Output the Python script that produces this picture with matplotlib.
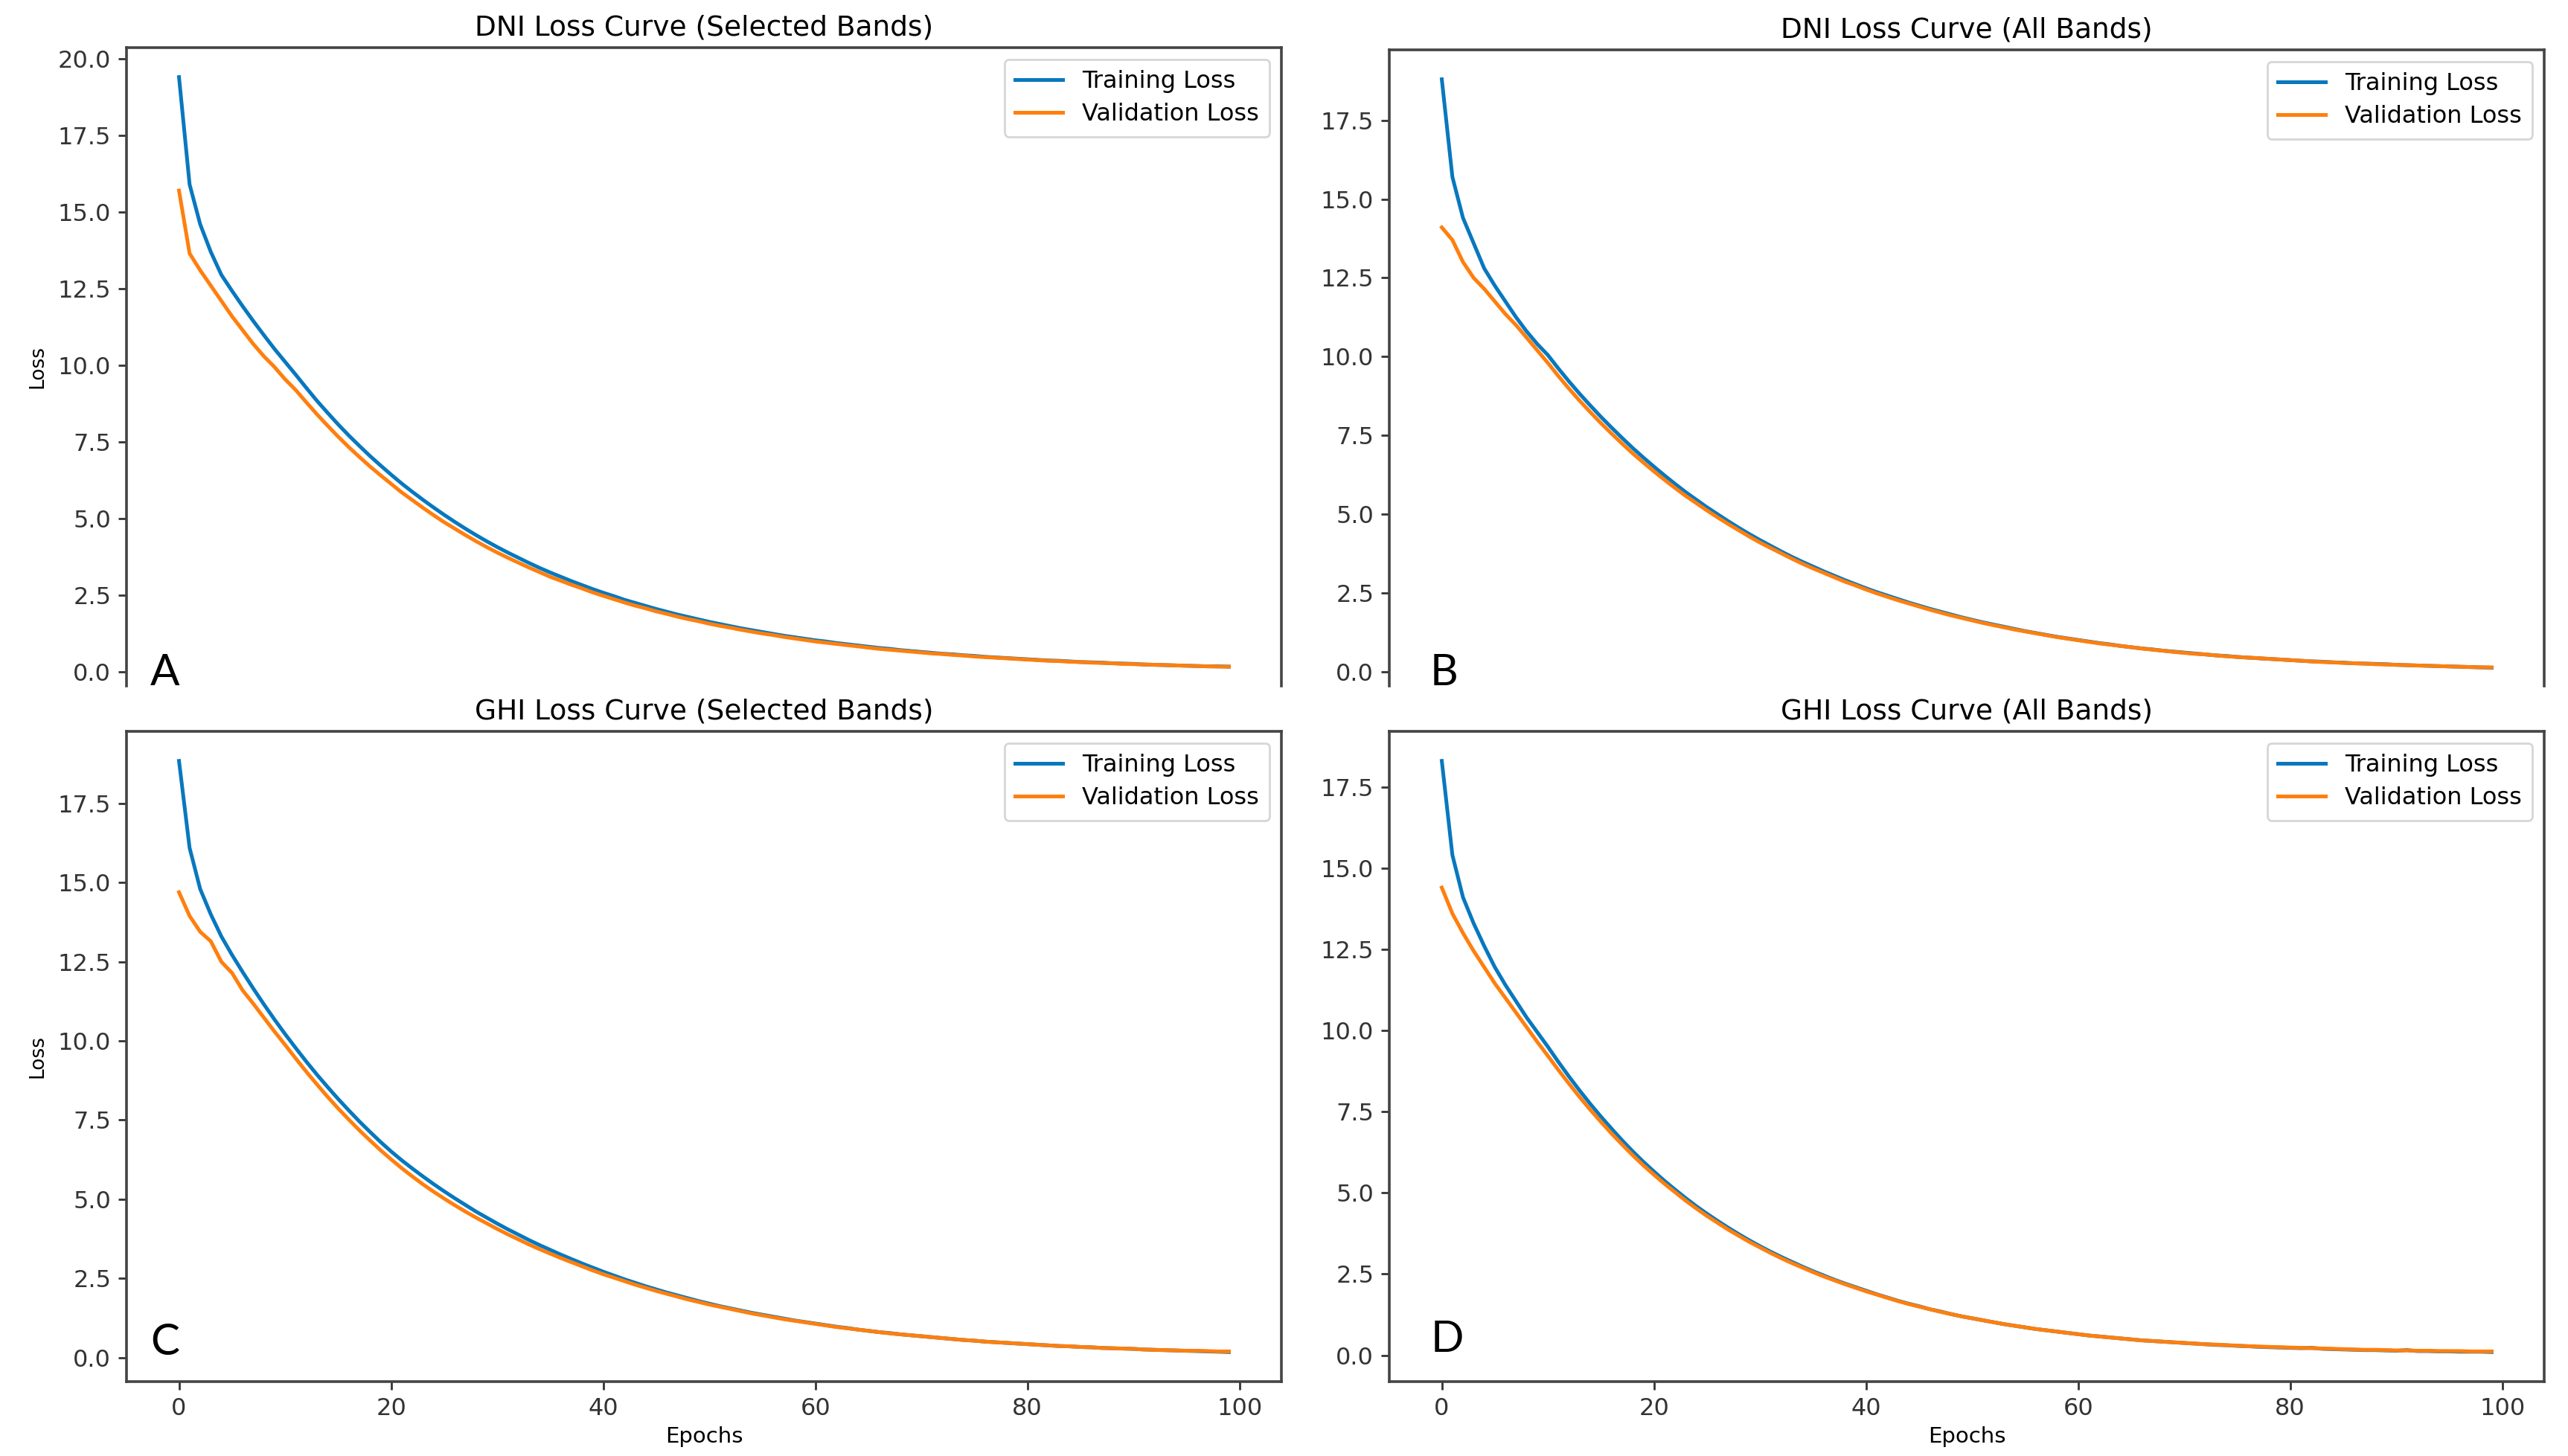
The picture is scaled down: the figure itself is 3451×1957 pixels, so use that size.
import matplotlib.pyplot as plt
import numpy as np

epochs = np.arange(100)

# DNI, selected bands
dni_sel_train = [
    19.40, 15.90, 14.60, 13.70, 12.95, 12.43, 11.93, 11.45, 10.99, 10.54,
    10.12, 9.70, 9.27, 8.85, 8.46, 8.08, 7.72, 7.38, 7.05, 6.74,
    6.44, 6.15, 5.88, 5.62, 5.37, 5.13, 4.90, 4.68, 4.47, 4.27,
    4.08, 3.90, 3.73, 3.56, 3.40, 3.25, 3.11, 2.97, 2.84, 2.71,
    2.59, 2.48, 2.36, 2.26, 2.16, 2.06, 1.97, 1.88, 1.80, 1.72,
    1.64, 1.57, 1.50, 1.43, 1.37, 1.31, 1.25, 1.19, 1.14, 1.09,
    1.04, 1.00, 0.95, 0.91, 0.87, 0.83, 0.79, 0.76, 0.72, 0.69,
    0.66, 0.63, 0.60, 0.58, 0.55, 0.53, 0.50, 0.48, 0.46, 0.44,
    0.42, 0.40, 0.38, 0.37, 0.35, 0.33, 0.32, 0.31, 0.29, 0.28,
    0.27, 0.25, 0.24, 0.23, 0.22, 0.21, 0.20, 0.19, 0.19, 0.18,
]
dni_sel_val = [
    15.70, 13.65, 13.10, 12.60, 12.10, 11.60, 11.15, 10.70, 10.30, 9.95,
    9.55, 9.20, 8.80, 8.41, 8.04, 7.68, 7.34, 7.02, 6.71, 6.42,
    6.14, 5.86, 5.61, 5.36, 5.12, 4.89, 4.68, 4.47, 4.27, 4.08,
    3.90, 3.73, 3.57, 3.41, 3.26, 3.11, 2.98, 2.85, 2.73, 2.60,
    2.49, 2.38, 2.27, 2.17, 2.08, 1.98, 1.90, 1.81, 1.73, 1.66,
    1.58, 1.51, 1.45, 1.38, 1.32, 1.26, 1.21, 1.15, 1.10, 1.05,
    1.00, 0.96, 0.92, 0.88, 0.84, 0.80, 0.76, 0.73, 0.70, 0.67,
    0.64, 0.61, 0.59, 0.56, 0.54, 0.51, 0.49, 0.47, 0.45, 0.43,
    0.41, 0.39, 0.37, 0.36, 0.34, 0.33, 0.31, 0.30, 0.29, 0.27,
    0.26, 0.25, 0.24, 0.23, 0.22, 0.21, 0.20, 0.19, 0.18, 0.18,
]

# DNI, all bands
dni_all_train = [
    18.80, 15.70, 14.40, 13.60, 12.80, 12.25, 11.75, 11.25, 10.80, 10.40,
    10.05, 9.62, 9.21, 8.82, 8.45, 8.09, 7.75, 7.42, 7.10, 6.80,
    6.51, 6.23, 5.96, 5.70, 5.46, 5.22, 5.00, 4.78, 4.57, 4.37,
    4.18, 4.00, 3.82, 3.65, 3.49, 3.34, 3.19, 3.05, 2.91, 2.78,
    2.65, 2.53, 2.42, 2.31, 2.20, 2.10, 2.00, 1.91, 1.82, 1.73,
    1.65, 1.57, 1.50, 1.43, 1.36, 1.29, 1.23, 1.17, 1.11, 1.06,
    1.01, 0.96, 0.91, 0.87, 0.82, 0.78, 0.74, 0.71, 0.67, 0.64,
    0.61, 0.58, 0.55, 0.52, 0.50, 0.47, 0.45, 0.43, 0.41, 0.39,
    0.37, 0.35, 0.33, 0.32, 0.30, 0.29, 0.27, 0.26, 0.25, 0.24,
    0.22, 0.21, 0.20, 0.19, 0.18, 0.17, 0.16, 0.15, 0.14, 0.13,
]
dni_all_val = [
    14.10, 13.70, 13.00, 12.50, 12.15, 11.75, 11.35, 11.00, 10.60, 10.20,
    9.80, 9.38, 8.98, 8.60, 8.24, 7.89, 7.56, 7.24, 6.93, 6.64,
    6.36, 6.09, 5.83, 5.58, 5.35, 5.12, 4.90, 4.69, 4.49, 4.29,
    4.10, 3.93, 3.76, 3.59, 3.43, 3.28, 3.14, 3.00, 2.86, 2.74,
    2.61, 2.49, 2.38, 2.27, 2.17, 2.07, 1.97, 1.88, 1.79, 1.71,
    1.63, 1.55, 1.48, 1.41, 1.34, 1.28, 1.22, 1.16, 1.10, 1.05,
    1.00, 0.95, 0.90, 0.86, 0.82, 0.78, 0.74, 0.70, 0.67, 0.63,
    0.60, 0.57, 0.55, 0.52, 0.49, 0.47, 0.45, 0.43, 0.41, 0.39,
    0.37, 0.35, 0.33, 0.31, 0.30, 0.28, 0.27, 0.26, 0.24, 0.23,
    0.22, 0.21, 0.20, 0.19, 0.18, 0.17, 0.16, 0.15, 0.14, 0.14,
]

# GHI, selected bands
ghi_sel_train = [
    18.85, 16.10, 14.80, 14.00, 13.30, 12.72, 12.18, 11.66, 11.16, 10.68,
    10.22, 9.78, 9.35, 8.94, 8.55, 8.17, 7.81, 7.46, 7.13, 6.81,
    6.51, 6.23, 5.97, 5.72, 5.48, 5.25, 5.03, 4.82, 4.61, 4.42,
    4.23, 4.05, 3.88, 3.71, 3.55, 3.40, 3.25, 3.11, 2.97, 2.84,
    2.71, 2.59, 2.47, 2.36, 2.25, 2.15, 2.05, 1.96, 1.87, 1.78,
    1.70, 1.62, 1.55, 1.48, 1.41, 1.35, 1.29, 1.23, 1.17, 1.12,
    1.07, 1.02, 0.97, 0.93, 0.88, 0.84, 0.80, 0.77, 0.73, 0.70,
    0.67, 0.64, 0.61, 0.58, 0.55, 0.53, 0.50, 0.48, 0.46, 0.44,
    0.42, 0.40, 0.38, 0.36, 0.35, 0.33, 0.32, 0.30, 0.29, 0.28,
    0.27, 0.25, 0.24, 0.23, 0.22, 0.21, 0.20, 0.19, 0.18, 0.17,
]
ghi_sel_val = [
    14.70, 13.95, 13.45, 13.15, 12.50, 12.15, 11.60, 11.18, 10.74, 10.30,
    9.88, 9.45, 9.03, 8.63, 8.24, 7.87, 7.52, 7.18, 6.86, 6.55,
    6.26, 5.98, 5.72, 5.47, 5.24, 5.02, 4.81, 4.61, 4.42, 4.24,
    4.06, 3.89, 3.73, 3.57, 3.42, 3.28, 3.14, 3.01, 2.88, 2.75,
    2.63, 2.52, 2.41, 2.30, 2.20, 2.10, 2.01, 1.92, 1.83, 1.75,
    1.67, 1.60, 1.53, 1.46, 1.39, 1.33, 1.27, 1.21, 1.16, 1.11,
    1.06, 1.01, 0.96, 0.92, 0.88, 0.84, 0.80, 0.76, 0.73, 0.70,
    0.67, 0.64, 0.61, 0.58, 0.55, 0.53, 0.50, 0.48, 0.46, 0.44,
    0.42, 0.40, 0.38, 0.36, 0.35, 0.33, 0.32, 0.30, 0.29, 0.28,
    0.27, 0.25, 0.24, 0.23, 0.22, 0.21, 0.21, 0.20, 0.19, 0.19,
]

# GHI, all bands
ghi_all_train = [
    18.30, 15.40, 14.10, 13.30, 12.60, 11.95, 11.40, 10.90, 10.40, 9.95,
    9.50, 9.03, 8.58, 8.15, 7.74, 7.35, 6.98, 6.62, 6.28, 5.96,
    5.66, 5.37, 5.10, 4.84, 4.59, 4.36, 4.14, 3.93, 3.73, 3.54,
    3.36, 3.19, 3.03, 2.88, 2.73, 2.59, 2.46, 2.33, 2.21, 2.10,
    1.99, 1.88, 1.78, 1.68, 1.59, 1.51, 1.42, 1.35, 1.27, 1.20,
    1.14, 1.08, 1.02, 0.96, 0.91, 0.86, 0.81, 0.77, 0.73, 0.69,
    0.65, 0.61, 0.58, 0.55, 0.52, 0.49, 0.46, 0.44, 0.42, 0.40,
    0.38, 0.36, 0.34, 0.32, 0.31, 0.29, 0.28, 0.26, 0.25, 0.24,
    0.23, 0.22, 0.23, 0.20, 0.19, 0.18, 0.17, 0.16, 0.16, 0.15,
    0.14, 0.16, 0.13, 0.13, 0.12, 0.12, 0.11, 0.11, 0.11, 0.10,
]
ghi_all_val = [
    14.40, 13.60, 13.00, 12.45, 11.95, 11.45, 11.00, 10.55, 10.10, 9.65,
    9.22, 8.78, 8.36, 7.95, 7.56, 7.19, 6.83, 6.49, 6.16, 5.85,
    5.56, 5.28, 5.02, 4.76, 4.52, 4.29, 4.08, 3.87, 3.68, 3.49,
    3.32, 3.15, 2.99, 2.84, 2.70, 2.56, 2.43, 2.31, 2.19, 2.08,
    1.97, 1.87, 1.77, 1.67, 1.58, 1.50, 1.42, 1.34, 1.27, 1.20,
    1.14, 1.08, 1.02, 0.96, 0.91, 0.86, 0.81, 0.77, 0.73, 0.69,
    0.65, 0.61, 0.58, 0.55, 0.52, 0.49, 0.46, 0.44, 0.42, 0.40,
    0.38, 0.36, 0.34, 0.33, 0.31, 0.30, 0.28, 0.27, 0.26, 0.25,
    0.24, 0.23, 0.22, 0.21, 0.20, 0.19, 0.18, 0.17, 0.17, 0.16,
    0.15, 0.15, 0.14, 0.14, 0.13, 0.13, 0.13, 0.12, 0.12, 0.12,
]

titles = [
    "DNI Loss Curve (Selected Bands)",
    "DNI Loss Curve (All Bands)",
    "GHI Loss Curve (Selected Bands)",
    "GHI Loss Curve (All Bands)",
]
panel_letters = ["A", "B", "C", "D"]

BLUE = "#0878be"
ORANGE = "#ff7f0e"
W, H = 3451, 1957


def px_rect(left, top, right, bottom):
    # pixel box of the reference -> figure fraction
    return [left / W, 1 - bottom / H, (right - left) / W, (bottom - top) / H]


def draw_panel(ax, train, val, title, top_row, show_ylabel):
    ax.plot(epochs, train, color=BLUE, lw=1.8, label="Training Loss")
    ax.plot(epochs, val, color=ORANGE, lw=1.8, label="Validation Loss")
    ax.set_title(title, fontsize=13.5, pad=6)
    ax.legend(loc="upper right", fontsize=11.5, borderpad=0.45,
              handlelength=2.0, labelspacing=0.4)
    ax.tick_params(labelsize=11.5, length=4, width=1.0, colors="#333333")
    for s in ax.spines.values():
        s.set_color("#444444")
        s.set_linewidth(1.3)
    if show_ylabel:
        ax.set_ylabel("Loss", fontsize=9.5, labelpad=5)
    if top_row:
        # the upper panels are cut just above their x axis
        ax.spines["bottom"].set_visible(False)
        ax.tick_params(bottom=False, labelbottom=False)
        lo, hi = ax.get_ylim()
        ax.set_ylim(-0.45, hi)
    else:
        ax.set_xlabel("Epochs", fontsize=10.5, labelpad=3)


def main():
    fig = plt.figure(figsize=(W / 200, H / 200), dpi=200)

    boxes = [
        px_rect(170, 64, 1722, 922),
        px_rect(1867, 67, 3419, 922),
        px_rect(170, 983, 1722, 1857),
        px_rect(1867, 983, 3419, 1857),
    ]
    series = [
        (dni_sel_train, dni_sel_val),
        (dni_all_train, dni_all_val),
        (ghi_sel_train, ghi_sel_val),
        (ghi_all_train, ghi_all_val),
    ]

    for i, (box, (tr, va)) in enumerate(zip(boxes, series)):
        ax = fig.add_axes(box)
        draw_panel(ax, tr, va, titles[i], top_row=i < 2, show_ylabel=i % 2 == 0)

    # panel letters
    letter_pos = [(202, 921), (1922, 921), (202, 1821), (1923, 1817)]
    for letter, (x, y) in zip(panel_letters, letter_pos):
        fig.text(x / W, 1 - y / H, letter, fontsize=21, family="Lato",
                 ha="left", va="baseline", color="black")

    fig.savefig("out.png", dpi=200)


if __name__ == "__main__":
    main()
